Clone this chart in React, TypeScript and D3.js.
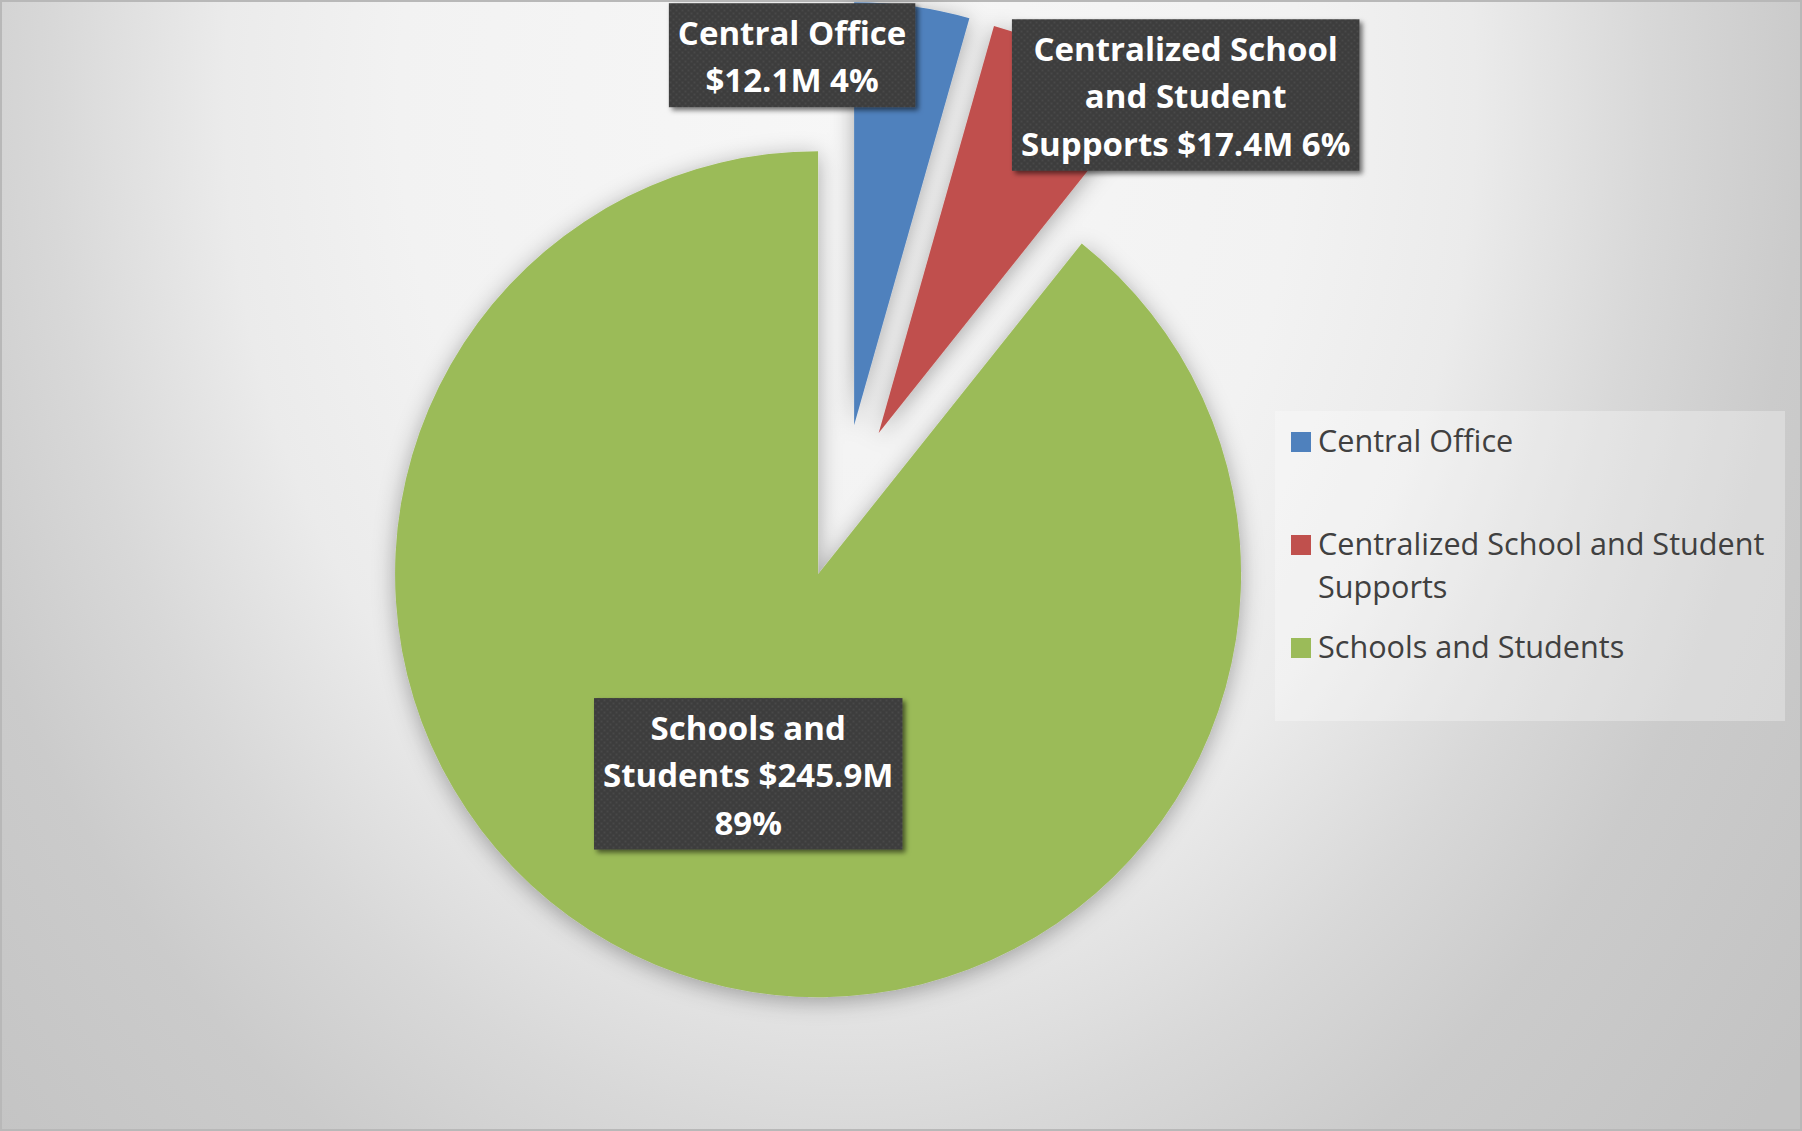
import React, { useEffect, useRef } from "react";
import * as d3 from "d3";

// ---- data ----
const categories = [
  "Central Office",
  "Centralized School and Student Supports",
  "Schools and Students",
];
const values = [12.1, 17.4, 245.9];
const colors = ["#4f81bd", "#c0504d", "#9bbb59"];

// ---- layout ----
const W = 1802;
const H = 1131;
const CX = 843.5;
const CY = 501.5;
const R = 423;
const EXPLODE = 77;
const FONT = "'Open Sans', Lato, sans-serif";
const LABEL_FS = 33;
const LABEL_LH = 47.5;
const LABEL_MAXCH = [14, 18, 16];
// label offsets from the exploded slice centre (null -> inside centroid at 0.5R)
const LABEL_OFFSET: ({ dx: number; dy: number } | null)[] = [
  { dx: -62, dy: -370 },
  { dx: 307, dy: -338 },
  null,
];
const LEGEND = { x: 1275, y: 411, w: 510, h: 310, fs: 30.6, first: 452, step: 103, lh: 43, maxch: 30 };

function wrap(text: string, maxCh: number): string[] {
  const words = text.split(" ");
  const lines: string[] = [];
  let cur = "";
  for (const w of words) {
    const t = cur ? cur + " " + w : w;
    if (t.length > maxCh && cur) {
      lines.push(cur);
      cur = w;
    } else cur = t;
  }
  if (cur) lines.push(cur);
  return lines;
}

export default function App() {
  const ref = useRef<SVGSVGElement>(null);

  useEffect(() => {
    const svg = d3.select(ref.current!);
    svg.selectAll("*").remove();

    const defs = svg.append("defs");
    const bg = defs
      .append("radialGradient")
      .attr("id", "bg")
      .attr("gradientUnits", "userSpaceOnUse")
      .attr("cx", 850)
      .attr("cy", 100)
      .attr("r", 1250)
      .attr("gradientTransform", "translate(850 100) scale(1 1.3) translate(-850 -100)");
    [
      [0, "#f7f7f7"],
      [0.36, "#f2f2f2"],
      [0.5, "#ebebeb"],
      [0.64, "#d8d8d8"],
      [0.76, "#cbcbcb"],
      [0.96, "#c3c3c3"],
      [1, "#c3c3c3"],
    ].forEach(([o, c]) => bg.append("stop").attr("offset", o as number).attr("stop-color", c as string));

    const sh = defs
      .append("filter")
      .attr("id", "pieShadow")
      .attr("x", "-20%")
      .attr("y", "-20%")
      .attr("width", "140%")
      .attr("height", "140%");
    sh.append("feDropShadow")
      .attr("dx", 0)
      .attr("dy", 4)
      .attr("stdDeviation", 11)
      .attr("flood-color", "#000")
      .attr("flood-opacity", 0.32);

    const bs = defs
      .append("filter")
      .attr("id", "boxShadow")
      .attr("x", "-10%")
      .attr("y", "-10%")
      .attr("width", "130%")
      .attr("height", "130%");
    bs.append("feDropShadow")
      .attr("dx", 3)
      .attr("dy", 3)
      .attr("stdDeviation", 2.5)
      .attr("flood-color", "#000")
      .attr("flood-opacity", 0.55);

    const pat = defs
      .append("pattern")
      .attr("id", "dots")
      .attr("width", 6)
      .attr("height", 6)
      .attr("patternUnits", "userSpaceOnUse");
    pat.append("rect").attr("width", 6).attr("height", 6).attr("fill", "#3e3e3e");
    pat.append("circle").attr("cx", 1.5).attr("cy", 1.5).attr("r", 1).attr("fill", "#4a4a4a");
    pat.append("circle").attr("cx", 4.5).attr("cy", 4.5).attr("r", 1).attr("fill", "#4a4a4a");

    // background
    svg.append("rect").attr("width", W).attr("height", H).attr("fill", "url(#bg)");
    svg
      .append("rect")
      .attr("x", 1)
      .attr("y", 1)
      .attr("width", W - 2)
      .attr("height", H - 2)
      .attr("fill", "none")
      .attr("stroke", "#b8b8b8")
      .attr("stroke-width", 2);

    const total = d3.sum(values);
    const pie = d3
      .pie<number>()
      .sort(null)
      .startAngle(0)
      .endAngle(2 * Math.PI)(values);
    const arc = d3.arc<d3.PieArcDatum<number>>().innerRadius(0).outerRadius(R);

    const centres = pie.map((p) => {
      const mid = (p.startAngle + p.endAngle) / 2;
      return { mid, x: CX + EXPLODE * Math.sin(mid), y: CY - EXPLODE * Math.cos(mid) };
    });

    const gPie = svg.append("g").attr("filter", "url(#pieShadow)");
    pie.forEach((p, i) => {
      gPie
        .append("path")
        .attr("transform", `translate(${centres[i].x},${centres[i].y})`)
        .attr("d", arc(p)!)
        .attr("fill", colors[i]);
    });

    // data labels
    const fmtPct = d3.format(".0%");
    pie.forEach((p, i) => {
      const c = centres[i];
      const off = LABEL_OFFSET[i];
      const lx = off ? c.x + off.dx : c.x + 0.5 * R * Math.sin(c.mid);
      const ly = off ? c.y + off.dy : c.y - 0.5 * R * Math.cos(c.mid);
      const txt = `${categories[i]} $${values[i].toFixed(1)}M ${fmtPct(values[i] / total)}`;
      const lines = wrap(txt, LABEL_MAXCH[i]);
      const h = lines.length * LABEL_LH + 9;
      const top = ly - h / 2;
      const g = svg.append("g");
      const box = g.append("rect").attr("fill", "url(#dots)").attr("filter", "url(#boxShadow)");
      const t = g
        .append("text")
        .attr("font-family", FONT)
        .attr("font-weight", "bold")
        .attr("font-size", LABEL_FS)
        .attr("fill", "#ffffff")
        .attr("text-anchor", "middle");
      let maxW = 0;
      lines.forEach((ln, k) => {
        const ts = t
          .append("tspan")
          .attr("x", lx)
          .attr("y", top + 41.5 + k * LABEL_LH)
          .text(ln);
        const node = ts.node() as SVGTextContentElement;
        maxW = Math.max(maxW, node.getComputedTextLength());
      });
      const w = maxW + 18;
      box.attr("x", lx - w / 2).attr("y", top).attr("width", w).attr("height", h);
    });

    // legend
    svg
      .append("rect")
      .attr("x", LEGEND.x)
      .attr("y", LEGEND.y)
      .attr("width", LEGEND.w)
      .attr("height", LEGEND.h)
      .attr("fill", "#ffffff")
      .attr("fill-opacity", 0.3);
    categories.forEach((cat, i) => {
      const base = LEGEND.first + i * LEGEND.step;
      svg
        .append("rect")
        .attr("x", 1291)
        .attr("y", base - 20)
        .attr("width", 20)
        .attr("height", 20)
        .attr("fill", colors[i]);
      const t = svg
        .append("text")
        .attr("font-family", FONT)
        .attr("font-size", LEGEND.fs)
        .attr("fill", "#404040");
      wrap(cat, LEGEND.maxch).forEach((ln, k) => {
        t.append("tspan").attr("x", 1318).attr("y", base + k * LEGEND.lh).text(ln);
      });
    });
  }, []);

  return (
    <svg
      ref={ref}
      width={W}
      height={H}
      style={{ position: "absolute", left: 0, top: 0, display: "block" }}
    />
  );
}
